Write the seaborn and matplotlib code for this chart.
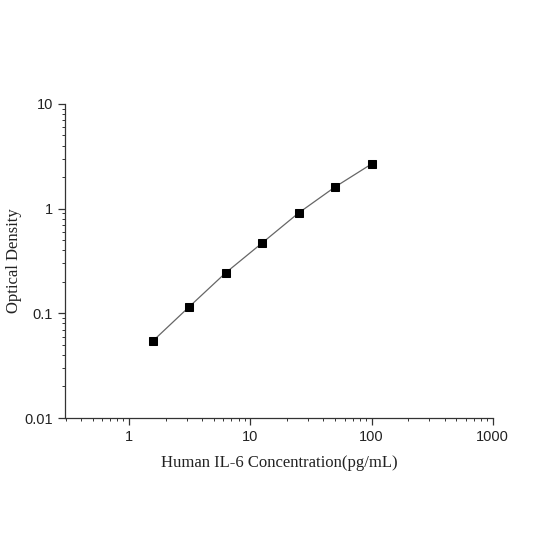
import matplotlib
matplotlib.use("Agg")
import matplotlib.pyplot as plt
import seaborn as sns
import pandas as pd
from matplotlib.ticker import LogLocator, FixedLocator, FixedFormatter, NullFormatter

concentration = [1.5625, 3.125, 6.25, 12.5, 25, 50, 100]
optical_density = [0.054, 0.115, 0.243, 0.469, 0.908, 1.61, 2.67]
x_ticks = [1, 10, 100, 1000]
x_tick_labels = ["1", "10", "100", "1000"]
y_ticks = [0.01, 0.1, 1, 10]
y_tick_labels = ["0.01", "0.1", "1", "10"]

df = pd.DataFrame({"conc": concentration, "od": optical_density})

sns.set_style("ticks")
fig = plt.figure(figsize=(5.5, 5.5), dpi=100)
ax = fig.add_axes([0.118, 0.24, 0.778, 0.571])

sns.lineplot(data=df, x="conc", y="od", ax=ax, color="#666666", linewidth=0.9,
             marker="s", markersize=5.5, markerfacecolor="black",
             markeredgecolor="black")

ax.set_xscale("log")
ax.set_yscale("log")
ax.set_xlim(0.296, 1000)
ax.set_ylim(0.01, 10)

ax.xaxis.set_major_locator(FixedLocator(x_ticks))
ax.xaxis.set_major_formatter(FixedFormatter(x_tick_labels))
ax.yaxis.set_major_locator(FixedLocator(y_ticks))
ax.yaxis.set_major_formatter(FixedFormatter(y_tick_labels))
ax.xaxis.set_minor_locator(LogLocator(base=10, subs=range(2, 10), numticks=20))
ax.yaxis.set_minor_locator(LogLocator(base=10, subs=range(2, 10), numticks=20))
ax.xaxis.set_minor_formatter(NullFormatter())
ax.yaxis.set_minor_formatter(NullFormatter())

for s in ["top", "right"]:
    ax.spines[s].set_visible(False)
for s in ["left", "bottom"]:
    ax.spines[s].set_color("#333333")
    ax.spines[s].set_linewidth(0.9)

ax.tick_params(which="major", direction="out", length=5, width=0.9, color="#333333",
               labelsize=10.5, labelcolor="#222222")
ax.tick_params(which="minor", direction="out", length=2.5, width=0.7, color="#333333")
for lab in ax.get_xticklabels() + ax.get_yticklabels():
    lab.set_fontfamily("Liberation Sans")

ax.set_xlabel("Human IL-6 Concentration(pg/mL)", fontfamily="Liberation Serif",
              fontsize=12, color="#222222", labelpad=8)
ax.set_ylabel("Optical Density", fontfamily="Liberation Serif",
              fontsize=12, color="#222222", labelpad=2)

fig.savefig("out.png", dpi=100)
